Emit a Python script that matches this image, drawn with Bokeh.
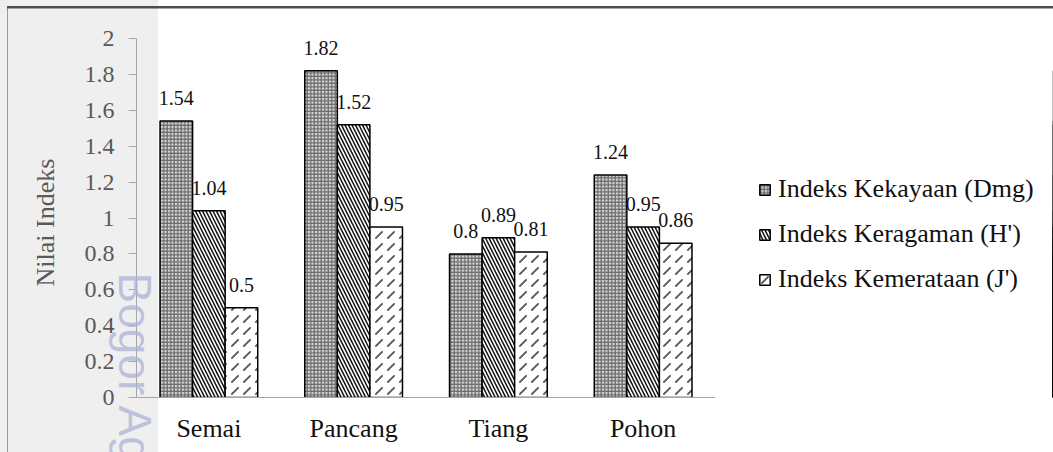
from math import pi

from bokeh.core.properties import value
from bokeh.embed import file_html
from bokeh.layouts import row
from bokeh.models import (ColumnDataSource, FactorRange, FixedTicker,
                          Label, LabelSet, Legend, LegendItem, Range1d)
from bokeh.plotting import figure
from bokeh.resources import INLINE
from bokeh.transform import dodge

# ---- data -------------------------------------------------------------
categories = ["Semai", "Pancang", "Tiang", "Pohon"]
series_names = ["Indeks Kekayaan (Dmg)", "Indeks Keragaman (H')", "Indeks Kemerataan (J')"]
kekayaan = [1.54, 1.82, 0.80, 1.24]
keragaman = [1.04, 1.52, 0.89, 0.95]
kemerataan = [0.50, 0.95, 0.81, 0.86]
y_ticks = [0, 0.2, 0.4, 0.6, 0.8, 1, 1.2, 1.4, 1.6, 1.8, 2]
y_tick_labels = ["0", "0.2", "0.4", "0.6", "0.8", "1", "1.2", "1.4", "1.6", "1.8", "2"]
value_labels = [["1.54", "1.82", "0.8", "1.24"],
                ["1.04", "1.52", "0.89", "0.95"],
                ["0.5", "0.95", "0.81", "0.86"]]
y_title = "Nilai Indeks"

SERIF = "Liberation Serif"
GREY_TXT = "#595959"

# ---- chart ------------------------------------------------------------
p = figure(
    x_range=FactorRange(*categories, range_padding=0),
    y_range=Range1d(0, 2),
    width=715, height=452,
    min_border_left=135, min_border_right=0,
    min_border_top=38, min_border_bottom=55,
    output_backend="svg", toolbar_location=None,
    background_fill_alpha=0, border_fill_alpha=0,
)
p.outline_line_color = None
p.grid.visible = False

source = ColumnDataSource(dict(
    cat=categories, k=kekayaan, h=keragaman, j=kemerataan,
    lk=value_labels[0], lh=value_labels[1], lj=value_labels[2],
))

bar_w = 0.225
styles = [
    dict(col="k", lab="lk", off=-bar_w, fill_color="#d9d9d9", hatch_pattern="cross",
         hatch_color="#6b6b6b", hatch_scale=3.5, hatch_weight=1.3),
    dict(col="h", lab="lh", off=0.0, fill_color="white", hatch_pattern="left_diagonal_line",
         hatch_color="#111111", hatch_scale=7, hatch_weight=1.5),
    dict(col="j", lab="lj", off=bar_w, fill_color="white", hatch_pattern="right_diagonal_dash",
         hatch_color="#555555", hatch_scale=12, hatch_weight=1.8),
]


def bar_style(st):
    return dict(fill_color=st["fill_color"], line_color="black", line_width=1.5,
                hatch_pattern=st["hatch_pattern"], hatch_color=st["hatch_color"],
                hatch_scale=st["hatch_scale"], hatch_weight=st["hatch_weight"])


for st in styles:
    xs = dodge("cat", st["off"], range=p.x_range)
    p.vbar(x=xs, top=st["col"], width=bar_w, source=source, **bar_style(st))
    p.add_layout(LabelSet(x=xs, y=st["col"], text=st["lab"], source=source,
                          text_align="center", text_baseline="middle", y_offset=23,
                          text_font=value(SERIF), text_font_size="20px",
                          text_color="#111111"))

# axes
p.yaxis.ticker = FixedTicker(ticks=y_ticks)
p.yaxis.major_label_overrides = dict(zip(y_ticks, y_tick_labels))
p.yaxis.major_label_text_font = SERIF
p.yaxis.major_label_text_font_size = "24px"
p.yaxis.major_label_text_color = GREY_TXT
p.yaxis.major_label_standoff = 14
p.yaxis.major_tick_out = 8
p.yaxis.major_tick_in = 0
p.yaxis.minor_tick_out = 0
p.yaxis.minor_tick_in = 0
p.yaxis.axis_line_color = "#a6a6a6"
p.yaxis.major_tick_line_color = "#a6a6a6"

p.xaxis.major_tick_out = 0
p.xaxis.major_tick_in = 0
p.xaxis.axis_line_color = "#a6a6a6"
p.xaxis.major_label_text_font = SERIF
p.xaxis.major_label_text_font_size = "26px"
p.xaxis.major_label_text_color = "#111111"
p.xaxis.major_label_standoff = 16

# vertical y title, placed in the left margin
p.add_layout(Label(x=45, y=222, x_units="canvas", y_units="canvas", text=y_title,
                   angle=pi / 2, text_align="center", text_baseline="middle",
                   text_font=SERIF, text_font_size="26px", text_color=GREY_TXT), "left")

# faint watermark running down the left edge
p.add_layout(Label(x=134, y=272, x_units="canvas", y_units="canvas",
                   text="Bogor Agricultural University", angle=-pi / 2,
                   text_align="left", text_baseline="middle",
                   text_font="Liberation Sans", text_font_size="46px",
                   text_color="#aeb2d6", text_alpha=0.75), "left")

# ---- legend panel -----------------------------------------------------
# the same bars and styles feed the legend; they are shifted well past the
# right end of this panel's range, so only the legend entries are seen
q = figure(width=338, height=452, min_border=0, title=None,
           x_range=FactorRange(*categories), y_range=Range1d(0, 2),
           x_axis_location=None, y_axis_location=None,
           output_backend="svg", toolbar_location=None,
           background_fill_alpha=0, border_fill_alpha=0)
q.outline_line_color = None
q.grid.visible = False

items = []
for name, st in zip(series_names, styles):
    r = q.vbar(x=dodge("cat", 20, range=q.x_range), top=st["col"], width=bar_w,
               source=source, **bar_style(st))
    items.append(LegendItem(label=name, renderers=[r]))

legend = Legend(items=items, location=(43, 103), orientation="vertical",
                glyph_width=13, glyph_height=13, label_height=30, spacing=15,
                label_standoff=7, padding=0, margin=0,
                border_line_color=None, background_fill_alpha=0,
                label_text_font=SERIF, label_text_font_size="26px",
                label_text_color="#111111")
q.add_layout(legend, "center")

layout = row(p, q, spacing=0)
# page frame lines and the pale band down the left side, painted behind the canvases
layout.styles = {
    "background": (
        "linear-gradient(#4d4d4d, #4d4d4d) 7px 6px / calc(100% - 7px) 2.5px no-repeat, "
        "linear-gradient(#9a9a9a, #9a9a9a) 6.5px 7px / 1px calc(100% - 7px) no-repeat, "
        "linear-gradient(#efefef, #efefef) 0 0 / 158px 100% no-repeat, #ffffff"
    ),
}

open("out.html", "w").write(file_html(layout, INLINE))
